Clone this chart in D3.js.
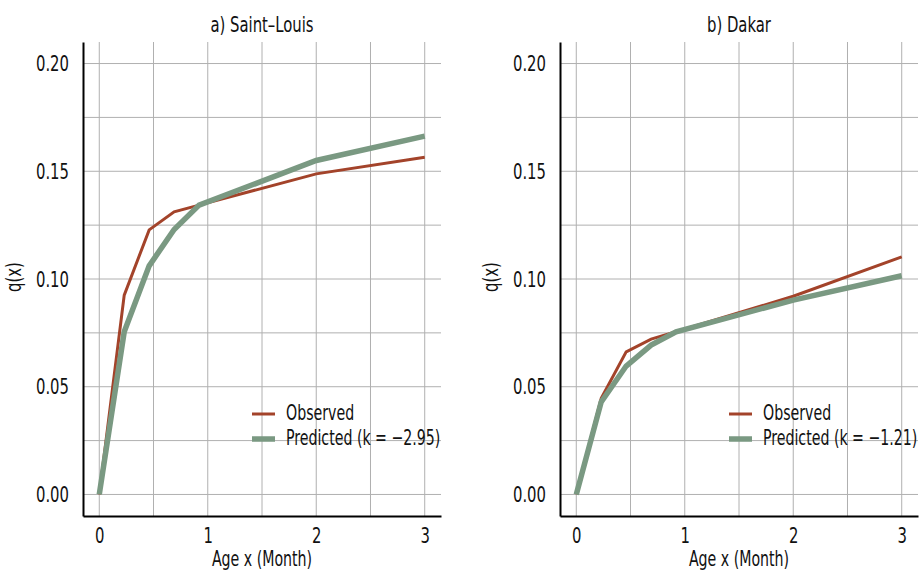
<!DOCTYPE html>
<html>
<head>
<meta charset="utf-8">
<script src="https://cdn.jsdelivr.net/npm/d3@7"></script>
<style>
  body { margin: 0; background: #fff; }
  text { font-family: "DejaVu Sans Condensed", "Liberation Sans Narrow", sans-serif; fill: #111; }
</style>
</head>
<body>
<div id="chart"></div>
<script>
// ages in months (1, 2, 3, 4 weeks then 2 and 3 months)
const ages = [0, 0.23, 0.46, 0.69, 0.92, 2, 3];

const stLouisObserved = [0, 0.0925, 0.1228, 0.1312, 0.1343, 0.1488, 0.1565];
const stLouisPredicted = [0, 0.0755, 0.1061, 0.1230, 0.1343, 0.1550, 0.1663];

const dakarObserved = [0, 0.0446, 0.0662, 0.0721, 0.0755, 0.0920, 0.1103];
const dakarPredicted = [0, 0.0430, 0.0596, 0.0693, 0.0755, 0.0902, 0.1015];

const panelTitles = ["a) Saint\u2013Louis", "b) Dakar"];
const kLabels = ["Predicted (k = \u22122.95)", "Predicted (k = \u22121.21)"];
const yTicks = [0, 0.05, 0.10, 0.15, 0.20];
const yGrid = [0, 0.025, 0.05, 0.075, 0.10, 0.125, 0.15, 0.175, 0.20];
const xTicks = [0, 1, 2, 3];
const xGrid = [0, 0.5, 1, 1.5, 2, 2.5, 3];

const obsColor = "#a3432a";
const predColor = "#7a9982";

const width = 919;
const height = 572;

const svg = d3.select("#chart")
  .append("svg")
  .attr("width", width)
  .attr("height", height);

const panels = [
  { left: 83, obs: stLouisObserved, pred: stLouisPredicted },
  { left: 560, obs: dakarObserved, pred: dakarPredicted }
];
const plotTop = 42, plotBottom = 516, plotW = 358;

panels.forEach((p, i) => {
  const x = d3.scaleLinear().domain([-0.15, 3.15]).range([p.left, p.left + plotW]);
  const y = d3.scaleLinear().domain([-0.01, 0.21]).range([plotBottom, plotTop]);

  const g = svg.append("g");

  // grid
  g.selectAll(".vgrid")
    .data(xGrid)
    .enter()
    .append("line")
    .attr("x1", d => x(d)).attr("x2", d => x(d))
    .attr("y1", plotTop).attr("y2", plotBottom)
    .attr("stroke", "#b0b0b0").attr("stroke-width", 1);

  g.selectAll(".hgrid")
    .data(yGrid)
    .enter()
    .append("line")
    .attr("x1", p.left).attr("x2", p.left + plotW)
    .attr("y1", d => y(d)).attr("y2", d => y(d))
    .attr("stroke", "#b0b0b0").attr("stroke-width", 1);

  // axes
  const xAxis = g.append("g")
    .attr("transform", `translate(0,${plotBottom})`)
    .call(d3.axisBottom(x).tickValues(xTicks).tickSize(0).tickPadding(11).tickFormat(d3.format("d")));
  xAxis.select(".domain").attr("stroke", "#000").attr("stroke-width", 2);
  xAxis.selectAll("text").style("font-size", "22px").attr("fill", "#111");

  const yAxis = g.append("g")
    .attr("transform", `translate(${p.left},0)`)
    .call(d3.axisLeft(y).tickValues(yTicks).tickSize(0).tickPadding(14).tickFormat(d3.format(".2f")));
  yAxis.select(".domain").attr("stroke", "#000").attr("stroke-width", 2);
  yAxis.selectAll("text").style("font-size", "22px").attr("fill", "#111");

  // lines
  const line = d3.line()
    .x((d, j) => x(ages[j]))
    .y(d => y(d));

  g.append("path")
    .datum(p.obs)
    .attr("d", line)
    .attr("fill", "none")
    .attr("stroke", obsColor)
    .attr("stroke-width", 3);

  g.append("path")
    .datum(p.pred)
    .attr("d", line)
    .attr("fill", "none")
    .attr("stroke", predColor)
    .attr("stroke-width", 5.5);

  // titles
  g.append("text")
    .attr("x", p.left + plotW / 2)
    .attr("y", 32)
    .attr("text-anchor", "middle")
    .style("font-size", "22px")
    .text(panelTitles[i]);

  g.append("text")
    .attr("x", p.left + plotW / 2)
    .attr("y", 566)
    .attr("text-anchor", "middle")
    .style("font-size", "21px")
    .text("Age x (Month)");

  g.append("text")
    .attr("transform", `translate(${p.left - 62},277) rotate(-90)`)
    .attr("text-anchor", "middle")
    .style("font-size", "22px")
    .text("q(x)");

  // legend
  const legend = g.append("g").attr("transform", `translate(${p.left + 169},414)`);
  const items = [
    { label: "Observed", color: obsColor, w: 3 },
    { label: kLabels[i], color: predColor, w: 5.5 }
  ];
  items.forEach((it, k) => {
    legend.append("line")
      .attr("x1", 0).attr("x2", 23)
      .attr("y1", k * 25).attr("y2", k * 25)
      .attr("stroke", it.color)
      .attr("stroke-width", it.w);
    legend.append("text")
      .attr("x", 34)
      .attr("y", k * 25 + 6)
      .style("font-size", "21px")
      .text(it.label);
  });
});

// squeeze all text horizontally to mimic the condensed face of the original
const squeeze = 0.75;
svg.selectAll("text").each(function () {
  const t = d3.select(this);
  const ax = +t.attr("x") || 0;
  const prev = t.attr("transform") || "";
  t.attr("transform", `${prev} translate(${ax * (1 - squeeze)},0) scale(${squeeze},1)`);
});
</script>
</body>
</html>
